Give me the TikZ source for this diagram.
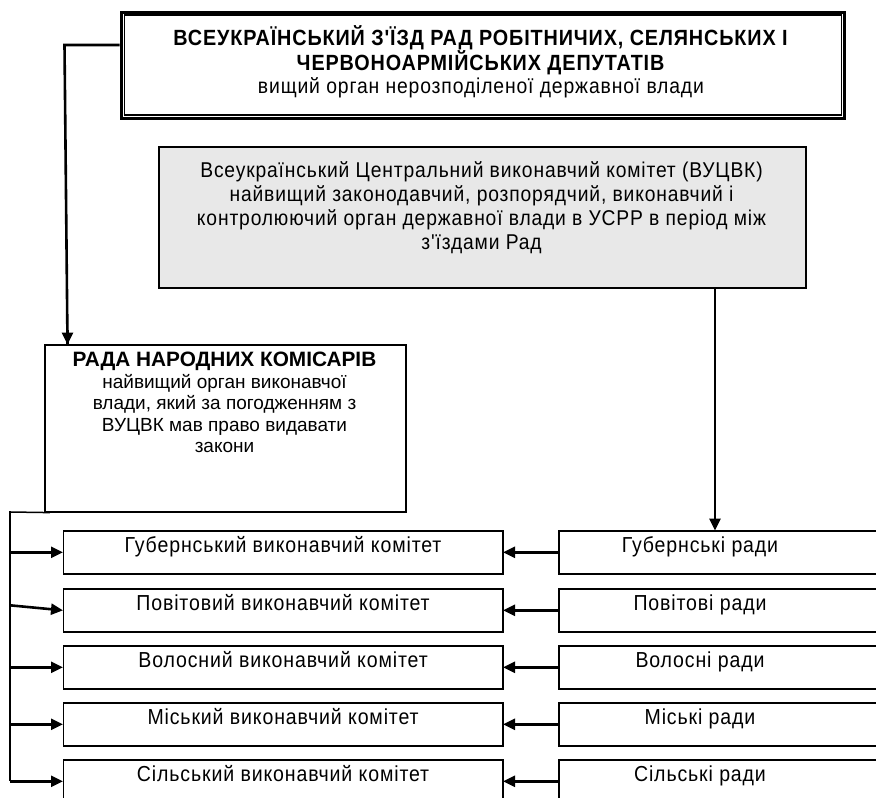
\documentclass[tikz,border=0pt]{standalone}
\usepackage{fontspec}
\setmainfont{Liberation Sans}
\newfontfamily\nf[FakeStretch=0.9,LetterSpace=4]{Liberation Sans}
\usetikzlibrary{arrows.meta}
\begin{document}
\begin{tikzpicture}[x=1pt,y=-1pt,
  box/.style={draw, line width=1.6pt, rectangle, anchor=north west, inner sep=0pt},
  leftbox/.style={box, minimum width=439.5pt, minimum height=43pt},
  rightbox/.style={box, minimum width=352pt, minimum height=43pt},
  txt/.style={inner sep=0pt, align=center},
  rowtxt/.style={inner sep=0pt, anchor=base, font=\nf\fontsize{21.7}{24}\selectfont},
  conn/.style={line width=2.6pt},
  arr/.style={line width=2.6pt, -{Triangle[length=12pt,width=11pt]}, shorten >=-0.5pt}
]
\useasboundingbox (0,0) rectangle (876,798);
\clip (0,0) rectangle (876,798);
\fill[white] (0,0) rectangle (876,798);

% top box (double frame)
\node[box, line width=3pt, minimum width=723.5pt, minimum height=105.5pt] (top) at (119.5,11) {};
\draw[line width=1.8pt] ([shift={(5,4)}]top.north west) rectangle ([shift={(-4.5,-4.5)}]top.south east);
\node[txt, anchor=north, font=\nf\fontsize{22}{22.5}\selectfont] (toptxt) at (481,25)
  {\textbf{ВСЕУКРАЇНСЬКИЙ З'ЇЗД РАД РОБІТНИЧИХ, СЕЛЯНСЬКИХ І}\\
   \textbf{ЧЕРВОНОАРМІЙСЬКИХ ДЕПУТАТІВ}\\[1pt]
   {\fontsize{21.5}{22.5}\selectfont вищий орган нерозподіленої державної влади}};

% VUTsVK
\node[box, line width=2pt, fill=black!9, minimum width=647pt, minimum height=141pt] (vutsvk) at (158,146) {};
\node[txt, anchor=north, font=\nf\fontsize{21.4}{24}\selectfont] (vtxt) at (481.5,161)
  {Всеукраїнський Центральний виконавчий комітет (ВУЦВК)\\
   найвищий законодавчий, розпорядчий, виконавчий і\\
   контролюючий орган державної влади в УСРР в період між\\
   з'їздами Рад};

% RNK
\node[box, line width=1.6pt, minimum width=361pt, minimum height=167pt] (rnk) at (44,344) {};
\node[txt, anchor=north, font=\fontsize{19}{21.5}\selectfont] (rtxt) at (224.5,352)
  {{\fontsize{20.8}{21.5}\selectfont\bfseries РАДА НАРОДНИХ КОМІСАРІВ}\\
   найвищий орган виконавчої\\
   влади, який за погодженням з\\
   ВУЦВК мав право видавати\\
   закони};

% rows
\node[leftbox] (l1) at (62.5,530) {};
\node[leftbox] (l2) at (62.5,588) {};
\node[leftbox] (l3) at (62.5,645) {};
\node[leftbox] (l4) at (62.5,702) {};
\node[leftbox] (l5) at (62.5,759) {};
\node[rightbox] (r1) at (558,530) {};
\node[rightbox] (r2) at (558,588) {};
\node[rightbox] (r3) at (558,645) {};
\node[rightbox] (r4) at (558,702) {};
\node[rightbox] (r5) at (558,759) {};

\node[rowtxt] (l1t) at ([yshift=-22pt]l1.north) {Губернський виконавчий комітет};
\node[rowtxt] (l2t) at ([yshift=-22pt]l2.north) {Повітовий виконавчий комітет};
\node[rowtxt] (l3t) at ([yshift=-22pt]l3.north) {Волосний виконавчий комітет};
\node[rowtxt] (l4t) at ([yshift=-22pt]l4.north) {Міський виконавчий комітет};
\node[rowtxt] (l5t) at ([yshift=-22pt]l5.north) {Сільський виконавчий комітет};
\node[rowtxt] (r1t) at ([xshift=142pt,yshift=-22pt]r1.north west) {Губернські ради};
\node[rowtxt] (r2t) at ([xshift=142pt,yshift=-22pt]r2.north west) {Повітові ради};
\node[rowtxt] (r3t) at ([xshift=142pt,yshift=-22pt]r3.north west) {Волосні ради};
\node[rowtxt] (r4t) at ([xshift=142pt,yshift=-22pt]r4.north west) {Міські ради};
\node[rowtxt] (r5t) at ([xshift=142pt,yshift=-22pt]r5.north west) {Сільські ради};

% connectors
\coordinate (c1) at (64.5,45);
\coordinate (c2) at (67.5,0);
\draw[conn, line cap=butt] (top.west |- c1) -- (c1) -- (c2 |- rnk.north);
\draw[arr] ([yshift=14pt]c2 |- rnk.north) -- (c2 |- rnk.north);
\coordinate (c3) at (715,0);
\draw[arr] (c3 |- vutsvk.south) -- (c3 |- r1.north);

\coordinate (b) at (10,512);
\draw[line width=1.5pt] ([xshift=6pt]rnk.south west) -- (b);
\draw[line width=2.5pt] ([yshift=0.75pt]b) -- (b |- l5.west);
\foreach \i in {1,3,4,5} {
  \draw[arr] (b |- l\i.west) -- (l\i.west);
  \draw[arr] (r\i.west) -- (l\i.east);
}
\draw[arr] ([yshift=5pt]b |- l2.west) -- (l2.west);
\draw[arr] (r2.west) -- (l2.east);
\end{tikzpicture}
\end{document}
